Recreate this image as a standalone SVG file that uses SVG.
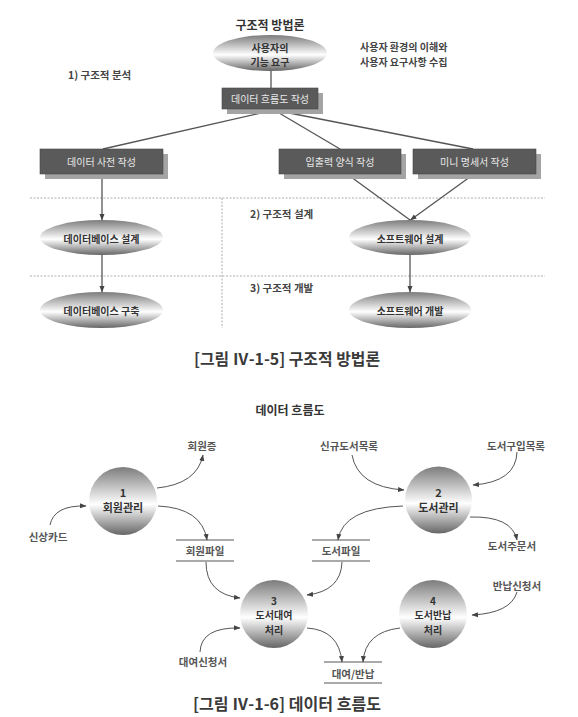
<svg xmlns="http://www.w3.org/2000/svg" width="578" height="717" viewBox="0 0 578 717">
<defs>
<linearGradient id="g" x1="0" y1="0" x2="0" y2="1">
<stop offset="0" stop-color="#7c7c7c"/>
<stop offset="0.55" stop-color="#ffffff"/>
<stop offset="1" stop-color="#666666"/>
</linearGradient>
<marker id="a" markerWidth="7" markerHeight="6" refX="6" refY="3" orient="auto" markerUnits="userSpaceOnUse"><path d="M0,0.5 L6.5,3 L0,5.5 z" fill="#444"/></marker>
</defs>
<style>
text { font-family: "Noto Sans CJK KR", "Noto Sans", sans-serif; dominant-baseline: central; }
.t { font-size: 12px; font-weight: bold; fill: #333; text-anchor: middle; }
.lbl { font-size: 10.5px; font-weight: bold; fill: #555; text-anchor: middle; }
.sec { font-size: 10.5px; font-weight: bold; fill: #444; }
.note { font-size: 10px; font-weight: bold; fill: #444; }
.bx { fill: #5a5a5a; stroke: #474747; stroke-width: 0.6; }
.sh { fill: #a4a4a4; }
.bt { font-size: 10px; fill: #e8e8e8; text-anchor: middle; }
.et { font-size: 10px; font-weight: bold; fill: #333; text-anchor: middle; }
.ct { font-size: 11px; font-weight: bold; fill: #333; text-anchor: middle; }
.ct3 { font-size: 10px; font-weight: bold; fill: #333; text-anchor: middle; }
.shape { fill: url(#g); }
.ln { stroke: #555; stroke-width: 1.3; fill: none; }
.arr { stroke: #555; stroke-width: 1.3; fill: none; marker-end: url(#a); }
.cv { stroke: #555; stroke-width: 1; fill: none; marker-end: url(#a); }
.dash { stroke: #9a9a9a; stroke-width: 0.8; stroke-dasharray: 2 1.5; fill: none; }
.cap { font-size: 16px; font-weight: bold; fill: #3a3a3a; text-anchor: middle; }
.st { stroke: #555; stroke-width: 1; }
</style>

<!-- Top: 구조적 방법론 -->
<text class="t" x="270" y="24">구조적 방법론</text>
<text class="note" x="360" y="46.5">사용자 환경의 이해와</text>
<text class="note" x="360" y="61">사용자 요구사항 수집</text>
<text class="sec" x="68" y="74">1) 구조적 분석</text>
<text class="sec" x="250" y="213">2) 구조적 설계</text>
<text class="sec" x="250" y="287">3) 구조적 개발</text>

<g id="dividers">
<line class="dash" x1="30" y1="198" x2="545" y2="198"/>
<line class="dash" x1="30" y1="276" x2="545" y2="276"/>
<line class="dash" x1="222" y1="198" x2="222" y2="328"/>
</g>

<g id="connectors-top">
<line class="ln" x1="271" y1="71" x2="271" y2="88"/>
<line class="ln" x1="274" y1="110" x2="103" y2="149"/>
<line class="ln" x1="274" y1="110" x2="340" y2="149"/>
<line class="ln" x1="274" y1="110" x2="473" y2="149"/>
<line class="arr" x1="102" y1="174" x2="102" y2="220"/>
<line class="ln" x1="347" y1="174" x2="410" y2="220"/>
<line class="arr" x1="474" y1="174" x2="410.5" y2="220"/>
<line class="arr" x1="102" y1="255" x2="102" y2="292"/>
<line class="arr" x1="410" y1="255" x2="410" y2="292"/>
</g>

<g id="user-req">
<ellipse class="shape" cx="270" cy="53" rx="57" ry="18"/>
<text class="et" x="270" y="47">사용자의</text>
<text class="et" x="270" y="61">기능 요구</text>
</g>

<g id="dfd-make">
<rect class="sh" x="227" y="93" width="96" height="21"/>
<rect class="bx" x="222" y="88" width="96" height="21"/>
<text class="bt" x="270" y="98.5">데이터 흐름도 작성</text>
</g>

<g id="dict-make">
<rect class="sh" x="45" y="154" width="123" height="25"/>
<rect class="bx" x="40" y="149" width="123" height="25"/>
<text class="bt" x="101.5" y="161.5">데이터 사전 작성</text>
</g>

<g id="io-make">
<rect class="sh" x="284" y="154" width="122" height="25"/>
<rect class="bx" x="279" y="149" width="122" height="25"/>
<text class="bt" x="340" y="161.5">입출력 양식 작성</text>
</g>

<g id="mini-make">
<rect class="sh" x="418" y="154" width="123" height="25"/>
<rect class="bx" x="413" y="149" width="123" height="25"/>
<text class="bt" x="474.5" y="161.5">미니 명세서 작성</text>
</g>

<g id="db-design">
<ellipse class="shape" cx="101.5" cy="237.5" rx="61.5" ry="17.5"/>
<text class="et" x="101.5" y="238">데이터베이스 설계</text>
</g>

<g id="sw-design">
<ellipse class="shape" cx="410" cy="237.5" rx="61" ry="17.5"/>
<text class="et" x="410" y="238">소프트웨어 설계</text>
</g>

<g id="db-build">
<ellipse class="shape" cx="101.5" cy="310" rx="61.5" ry="18"/>
<text class="et" x="101.5" y="310.5">데이터베이스 구축</text>
</g>

<g id="sw-dev">
<ellipse class="shape" cx="410" cy="310" rx="61" ry="18"/>
<text class="et" x="410" y="310.5">소프트웨어 개발</text>
</g>

<text class="cap" x="287" y="358" textLength="186" lengthAdjust="spacingAndGlyphs">[그림 Ⅳ-1-5] 구조적 방법론</text>

<!-- Bottom: 데이터 흐름도 -->
<text class="t" x="290" y="409">데이터 흐름도</text>

<g id="connectors-dfd">
<path class="cv" d="M157,488 Q197,484 203,455"/>
<path class="cv" d="M50,525 Q54,505 86,506"/>
<path class="cv" d="M158,506 Q202,508 207,540"/>
<path class="cv" d="M352,455 Q358,487 404,490"/>
<path class="cv" d="M517,452 Q516,482 473,485"/>
<path class="cv" d="M403,506 Q343,508 338,540"/>
<path class="cv" d="M470,517 Q512,516 517,540"/>
<path class="cv" d="M206,562 Q206,594 240,598"/>
<path class="cv" d="M342,562 Q341,591 307,595"/>
<path class="cv" d="M200,652 Q201,627 240,628"/>
<path class="cv" d="M307,628 Q339,630 342,662"/>
<path class="cv" d="M400,628 Q365,632 363,662"/>
<path class="cv" d="M517,592 Q511,613 472,615"/>
</g>

<g id="p1">
<circle class="shape" cx="123" cy="501" r="34"/>
<text class="ct" x="123" y="492">1</text>
<text class="ct" x="123" y="507">회원관리</text>
</g>

<g id="p2">
<circle class="shape" cx="438.5" cy="500" r="33.5"/>
<text class="ct" x="438.5" y="492">2</text>
<text class="ct" x="438.5" y="507">도서관리</text>
</g>

<g id="p3">
<circle class="shape" cx="274" cy="614" r="34"/>
<text class="ct3" x="274" y="600">3</text>
<text class="ct3" x="274" y="614.5">도서대여</text>
<text class="ct3" x="274" y="629">처리</text>
</g>

<g id="p4">
<circle class="shape" cx="433" cy="614" r="34"/>
<text class="ct3" x="433" y="600">4</text>
<text class="ct3" x="433" y="614.5">도서반납</text>
<text class="ct3" x="433" y="629">처리</text>
</g>

<g id="member-card"><text class="lbl" x="202" y="445">회원증</text></g>
<g id="personal-card"><text class="lbl" x="48" y="536">신상카드</text></g>
<g id="new-books"><text class="lbl" x="349" y="445">신규도서목록</text></g>
<g id="buy-list"><text class="lbl" x="516" y="445">도서구입목록</text></g>
<g id="order"><text class="lbl" x="512" y="545">도서주문서</text></g>
<g id="return-req"><text class="lbl" x="517" y="585">반납신청서</text></g>
<g id="loan-req"><text class="lbl" x="203" y="661">대여신청서</text></g>

<g id="member-file">
<line class="st" x1="176" y1="540" x2="234" y2="540"/>
<line class="st" x1="176" y1="561" x2="234" y2="561"/>
<text class="lbl" x="205" y="550.5">회원파일</text>
</g>

<g id="book-file">
<line class="st" x1="312" y1="540" x2="370" y2="540"/>
<line class="st" x1="312" y1="561" x2="370" y2="561"/>
<text class="lbl" x="341" y="550.5">도서파일</text>
</g>

<g id="loan-file">
<line class="st" x1="324" y1="662" x2="382" y2="662"/>
<line class="st" x1="324" y1="683" x2="382" y2="683"/>
<text class="lbl" x="353" y="673">대여/반납</text>
</g>

<text class="cap" x="287" y="703" textLength="188" lengthAdjust="spacingAndGlyphs">[그림 Ⅳ-1-6] 데이터 흐름도</text>
</svg>
